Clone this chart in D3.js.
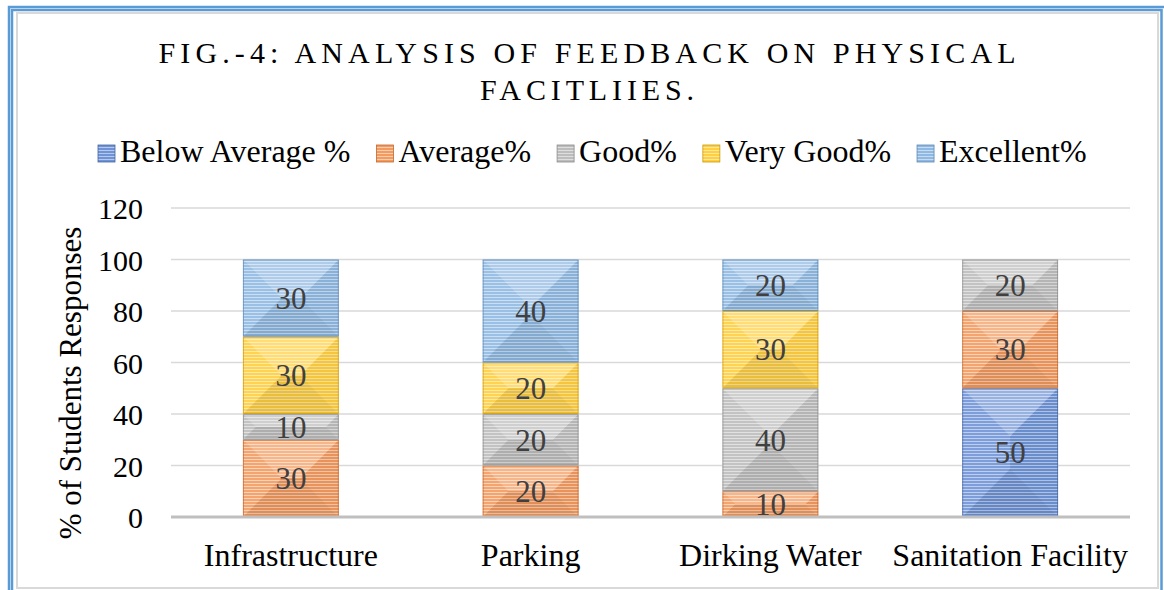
<!DOCTYPE html>
<html>
<head>
<meta charset="utf-8">
<script src="https://cdn.jsdelivr.net/npm/d3@7/dist/d3.min.js"></script>
<style>
  html, body { margin: 0; padding: 0; background: #fff; }
  svg { display: block; font-family: "Liberation Serif", "Times New Roman", serif; }
</style>
</head>
<body>
<div id="chart"></div>
<script>
// categories and series
var categories = ["Infrastructure", "Parking", "Dirking Water", "Sanitation Facility"];
var seriesNames = ["Below Average %", "Average%", "Good%", "Very Good%", "Excellent%"];
var belowAverage = [0, 0, 0, 50];
var average      = [30, 20, 10, 30];
var good         = [10, 20, 40, 20];
var veryGood     = [30, 20, 30, 0];
var excellent    = [30, 40, 20, 0];
var yTicks = [0, 20, 40, 60, 80, 100, 120];

var colors = ["#6f93d6", "#f39a5e", "#bdbdbd", "#ffcf3f", "#8fb9e2"];
var edges  = ["#45679f", "#c0672f", "#8a8a8a", "#c99a10", "#5d88b3"];

var W = 1164, H = 590;
var svg = d3.select("#chart").append("svg").attr("width", W).attr("height", H);
var defs = svg.append("defs");

// horizontal stripe patterns, one per series
colors.forEach(function (c, i) {
  var p = defs.append("pattern").attr("id", "stripe" + i)
    .attr("patternUnits", "userSpaceOnUse").attr("width", 6).attr("height", 3);
  p.append("rect").attr("width", 6).attr("height", 3).attr("fill", c);
  p.append("rect").attr("width", 6).attr("height", 1).attr("fill", "#fff").attr("opacity", 0.5);
});

// frame
svg.append("rect").attr("x", 9).attr("y", 7).attr("width", 1160).attr("height", 600)
  .attr("fill", "none").attr("stroke", "#5b9bd5").attr("stroke-width", 2.5);
svg.append("rect").attr("x", 12).attr("y", 10).attr("width", 1149.5).attr("height", 600)
  .attr("fill", "none").attr("stroke", "#5b9bd5").attr("stroke-width", 2.5);
svg.append("rect").attr("x", 17).attr("y", 13).attr("width", 1141).attr("height", 575)
  .attr("fill", "#fff").attr("stroke", "#d9d9d9").attr("stroke-width", 2);

// title
var title = svg.append("text").attr("text-anchor", "middle")
  .attr("font-size", 30).attr("fill", "#000");
title.append("tspan").attr("x", 587).attr("y", 63)
  .attr("textLength", 857).attr("lengthAdjust", "spacing")
  .text("FIG.-4: ANALYSIS OF FEEDBACK ON PHYSICAL");
title.append("tspan").attr("x", 587).attr("y", 100)
  .attr("textLength", 214).attr("lengthAdjust", "spacing")
  .text("FACITLIIES.");

// scales
var x = d3.scaleBand().domain(categories).range([171, 1130]).paddingInner(0.6).paddingOuter(0.3);
var y = d3.scaleLinear().domain([0, 120]).range([517, 208]);

// gridlines
svg.append("g").selectAll("line").data(yTicks.filter(function (d) { return d > 0; }))
  .join("line")
  .attr("x1", 171).attr("x2", 1130)
  .attr("y1", function (d) { return y(d); }).attr("y2", function (d) { return y(d); })
  .attr("stroke", "#d9d9d9").attr("stroke-width", 1.5);

// y axis labels
var yAxis = svg.append("g").attr("transform", "translate(151,0)")
  .call(d3.axisLeft(y).tickValues(yTicks).tickSize(0).tickPadding(8));
yAxis.select(".domain").remove();
yAxis.selectAll("text").attr("font-size", 30).attr("font-family", "Liberation Serif")
  .attr("fill", "#000").attr("dy", "0.35em");

svg.append("text").attr("transform", "translate(81,383) rotate(-90)")
  .attr("text-anchor", "middle").attr("font-size", 31).attr("fill", "#000")
  .text("% of Students Responses");

// stacked data
var table = categories.map(function (c, i) {
  return { cat: c, s0: belowAverage[i], s1: average[i], s2: good[i], s3: veryGood[i], s4: excellent[i] };
});
var stack = d3.stack().keys(["s0", "s1", "s2", "s3", "s4"])(table);

var bars = svg.append("g");
stack.forEach(function (layer, si) {
  var g = bars.append("g");
  layer.forEach(function (d) {
    var v = d[1] - d[0];
    if (v <= 0) return;
    var x0 = x(d.data.cat), bw = x.bandwidth();
    var y0 = y(d[1]), y1 = y(d[0]), h = y1 - y0;
    var cx = x0 + bw / 2, cy = y0 + h / 2;
    g.append("rect").attr("x", x0).attr("y", y0).attr("width", bw).attr("height", h)
      .attr("fill", "url(#stripe" + si + ")");
    // bevel shading
    var m = Math.min(bw, h) / 2;
    g.append("polygon").attr("points", [[x0, y0], [x0 + bw, y0], [x0 + bw - m, y0 + m], [x0 + m, y0 + m]].join(" "))
      .attr("fill", "#fff").attr("opacity", 0.28);
    g.append("polygon").attr("points", [[x0, y0], [x0 + m, y0 + m], [x0 + m, y1 - m], [x0, y1]].join(" "))
      .attr("fill", "#fff").attr("opacity", 0.1);
    g.append("polygon").attr("points", [[x0 + bw, y0], [x0 + bw, y1], [x0 + bw - m, y1 - m], [x0 + bw - m, y0 + m]].join(" "))
      .attr("fill", "#000").attr("opacity", 0.04);
    g.append("polygon").attr("points", [[x0, y1], [x0 + m, y1 - m], [x0 + bw - m, y1 - m], [x0 + bw, y1]].join(" "))
      .attr("fill", "#000").attr("opacity", 0.08);
    g.append("rect").attr("x", x0 + 0.5).attr("y", y0 + 0.5).attr("width", bw - 1).attr("height", h - 1)
      .attr("fill", "none").attr("stroke", edges[si]).attr("stroke-width", 1).attr("opacity", 0.7);
    g.append("text").attr("x", cx).attr("y", cy).attr("dy", "0.35em")
      .attr("text-anchor", "middle").attr("font-size", 31).attr("fill", "#404040")
      .text(v);
  });
});

// baseline
svg.append("line").attr("x1", 171).attr("x2", 1130).attr("y1", 517).attr("y2", 517)
  .attr("stroke", "#bfbfbf").attr("stroke-width", 3);

// category labels
svg.append("g").selectAll("text").data(categories).join("text")
  .attr("x", function (d) { return x(d) + x.bandwidth() / 2; })
  .attr("y", 566).attr("text-anchor", "middle").attr("font-size", 32).attr("fill", "#000")
  .text(function (d) { return d; });

// legend
var legend = svg.append("g");
var lx = 98;
seriesNames.forEach(function (name, i) {
  var item = legend.append("g").attr("transform", "translate(" + lx + ",0)");
  item.append("rect").attr("x", 0).attr("y", 145).attr("width", 17).attr("height", 17)
    .attr("fill", "url(#stripe" + i + ")").attr("stroke", edges[i]).attr("stroke-width", 0.8);
  var t = item.append("text").attr("x", 22).attr("y", 162).attr("font-size", 32).attr("fill", "#000").text(name);
  lx += 22 + t.node().getComputedTextLength() + 26;
});
</script>
</body>
</html>
